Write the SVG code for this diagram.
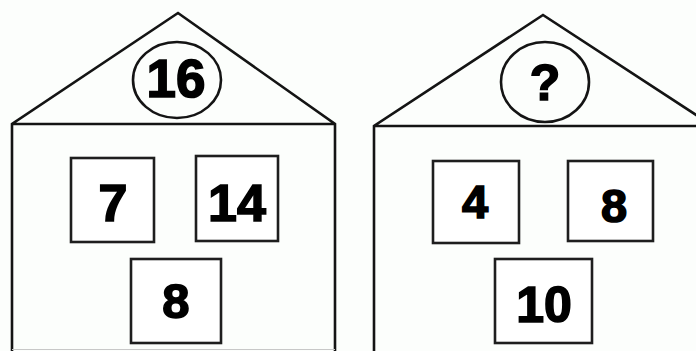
<svg xmlns="http://www.w3.org/2000/svg" width="696" height="351" viewBox="0 0 696 351">
<style>
.ln{fill:none;stroke:#141414;stroke-width:2.6;stroke-linejoin:miter}
.bx{fill:#fff;stroke:#1e1e1e;stroke-width:2.6}
.num{font-family:"Liberation Sans",Arial,sans-serif;font-weight:bold;fill:#000;stroke:#000;stroke-width:1.6;text-anchor:middle}
</style>
<rect width="696" height="351" fill="#fcfefc"/>
<g id="house-left">
<path class="ln" d="M12,351 V124 L178,13 L335,124 V351 M12,124 H335"/>
<line x1="12" y1="349.5" x2="335" y2="349.5" stroke="#c8c8c8" stroke-width="1.2"/>
<ellipse class="ln" cx="177" cy="80" rx="44" ry="38"/>
<text class="num" x="176" y="97" font-size="53">16</text>
</g>
<g id="box-7"><rect class="bx" x="71" y="158" width="83" height="84"/><text class="num" x="113" y="221" font-size="52">7</text></g>
<g id="box-14"><rect class="bx" x="196" y="156" width="82" height="85"/><text class="num" x="237" y="221" font-size="52">14</text></g>
<g id="box-8a"><rect class="bx" x="131" y="259" width="90" height="84"/><text class="num" x="176" y="318" font-size="49">8</text></g>
<g id="house-right">
<path class="ln" d="M374,351 V126 L543,15 L713,126 M374,126 H696"/>
<ellipse class="ln" cx="545" cy="82" rx="44" ry="40"/>
<text class="num" x="545" y="100" font-size="50">?</text>
</g>
<g id="box-4"><rect class="bx" x="433" y="161" width="86" height="82"/><text class="num" x="475" y="218" font-size="47">4</text></g>
<g id="box-8b"><rect class="bx" x="568" y="161" width="85" height="80"/><text class="num" x="614" y="222" font-size="47">8</text></g>
<g id="box-10"><rect class="bx" x="495" y="259" width="97" height="84"/><text class="num" x="544" y="322" font-size="50">10</text></g>
<g id="connectors"/>
</svg>
